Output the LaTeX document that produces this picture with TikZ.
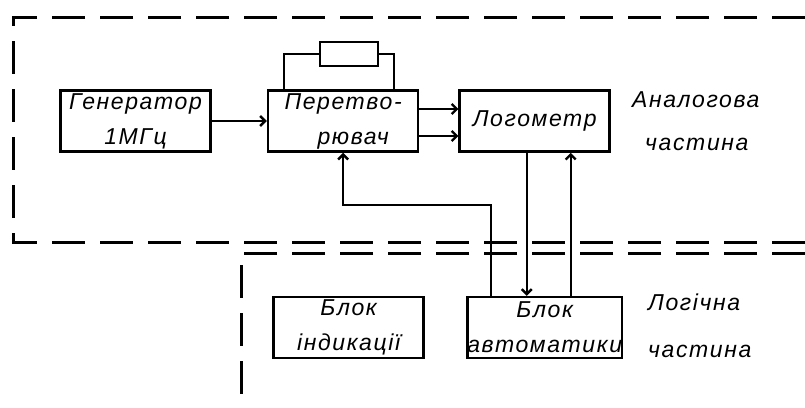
\documentclass[tikz,border=0pt]{standalone}
\usepackage{fontspec}
\newfontfamily\cadfont[LetterSpace=7]{Liberation Sans}
\usetikzlibrary{arrows.meta, positioning}
\tikzset{
  block/.style={
    rectangle, draw, line width=2.6pt,
    minimum width=150pt, minimum height=61pt, inner sep=0pt,
    align=center, font=\cadfont\itshape\fontsize{23}{35}\selectfont
  },
  resistor/.style={
    rectangle, draw, line width=2.6pt,
    minimum width=58pt, minimum height=24pt, inner sep=0pt
  },
  parttext/.style={align=left, inner sep=0pt, font=\cadfont\itshape\fontsize{23}{43}\selectfont},
  arrow/.style={line width=2.4pt, -{Straight Barb[length=5pt,width=10pt]}},
  wire/.style={line width=2.4pt},
  border/.style={line width=3pt, dash pattern=on 33pt off 15pt},
}
\begin{document}
\begin{tikzpicture}[x=1pt, y=-1pt]
  \useasboundingbox (0,0) rectangle (805,407);

  % analogue part
  \node (gen)  [block] at (135.5,121)            {Генератор\\1МГц};
  \node (conv) [block, right=55pt of gen]        {Перетво-\\\hspace*{20pt}рювач};
  \node (logo) [block, right=39pt of conv]       {Логометр};
  \node (res)  [resistor, above=22pt of conv, xshift=6pt] {};
  \node (antext) [parttext, anchor=west] at (632,121) {Аналогова\\\hspace*{13pt}частина};

  % logic part
  \node (auto) [block, below=143pt of logo, xshift=10pt] {Блок\\автоматики};
  \node (ind)  [block, left=41pt of auto]        {Блок\\індикації};
  \node (logtext) [parttext, anchor=west, font=\cadfont\itshape\fontsize{23}{47}\selectfont] at (648,326) {Логічна\\частина};

  \draw [arrow] (gen.east) -- (gen.east -| conv.west);
  \draw [arrow] ([yshift=12pt]conv.east) -- ([yshift=12pt]conv.east -| logo.west);
  \draw [arrow] ([yshift=-15pt]conv.east) -- ([yshift=-15pt]conv.east -| logo.west);
  \draw [wire]  ([xshift=-59pt]conv.north) |- (res.west);
  \draw [wire]  ([xshift=51pt]conv.north) |- (res.east);
  \draw [arrow] ([xshift=-8pt]logo.south) -- ([xshift=-8pt]logo.south |- auto.north);
  \draw [arrow] ([xshift=36pt]logo.south |- auto.north) -- ([xshift=36pt]logo.south);
  \draw [arrow] ([xshift=-54pt]auto.north) |- ([yshift=-52pt]conv.south) -- (conv.south);

  % part borders
  \draw [border] (805,17) -- (13,17) -- (13,242) -- (805,242);
  \draw [border] (805,253) -- (241,253) -- (241,407);
\end{tikzpicture}
\end{document}
